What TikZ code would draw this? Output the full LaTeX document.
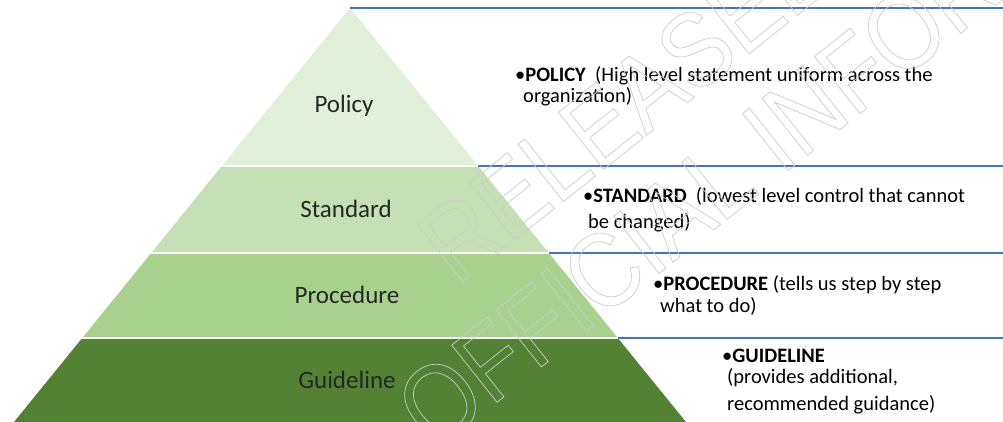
\documentclass[tikz,border=0pt]{standalone}
\usepackage{fontspec}
\setmainfont{Carlito}
\newfontfamily\stampfont[FakeStretch=0.875]{Liberation Sans}
\usetikzlibrary{positioning}

\definecolor{tierA}{HTML}{E2EFDA}
\definecolor{tierB}{HTML}{C5E0B4}
\definecolor{tierC}{HTML}{A9D18E}
\definecolor{tierD}{HTML}{548235}
\definecolor{ruleblue}{HTML}{4472C4}

% hollow letters for the stamp: stroke the glyphs (light grey) instead of filling them
\newcommand\hollow[1]{%
  \special{pdf:literal direct 1 Tr 0.7 w 0.8 0.8 0.8 RG}%
  #1%
  \special{pdf:literal direct 0 Tr}}

\begin{document}
\begin{tikzpicture}[x=1pt, y=-1pt,
  rule/.style={draw=ruleblue, line width=1.2pt},
  gap/.style={draw=white, line width=2pt},
  tierlabel/.style={font=\fontsize{25}{28}\selectfont, text=black!85, anchor=base, inner sep=0pt},
  desc/.style={font=\fontsize{20.5}{21}\selectfont, align=left, anchor=base west, inner sep=0pt},
  stamp/.style={font=\stampfont\fontsize{106}{106}\selectfont, anchor=base west, inner sep=0pt, rotate=38.5}]
\clip (0,0) rectangle (1003,422);
% tier corners along the two slanted sides
\coordinate (apex) at (350,8);
\coordinate (l1) at (221.8,166); \coordinate (r1) at (478.2,166);
\coordinate (l2) at (151.2,253); \coordinate (r2) at (548.8,253);
\coordinate (l3) at (82.2,338);  \coordinate (r3) at (617.8,338);
\coordinate (l4) at (7.5,430);   \coordinate (r4) at (692.5,430);
% right ends of the rules
\coordinate (e0) at (1003,8);
\coordinate (e1) at (1003,166);
\coordinate (e2) at (1003,253);
\coordinate (e3) at (1003,338);

\fill[tierA] (apex) -- (r1) -- (l1) -- cycle;
\fill[tierB] (l1) -- (r1) -- (r2) -- (l2) -- cycle;
\fill[tierC] (l2) -- (r2) -- (r3) -- (l3) -- cycle;
\fill[tierD] (l3) -- (r3) -- (r4) -- (l4) -- cycle;
\foreach \k in {1,2,3} \draw[gap] (l\k) -- (r\k);

\draw[rule] (apex) -- (e0);
\foreach \k in {1,2,3} \draw[rule] (r\k) -- (e\k);

\node[tierlabel] (policy) at (344,113) {Policy};
\node[tierlabel] (standard) at (346,217) {Standard};
\node[tierlabel] (procedure) at (347,303) {Procedure};
\node[tierlabel] (guideline) at (347,388) {Guideline};

% descriptions sit on the baseline of their last line
\node[desc] (policytext) at (515,103) {•\textbf{POLICY}\ \ (High level statement uniform across the\\\hspace*{8pt}organization)};
\node[desc] (standardtext) at (583,228) {•\textbf{STANDARD}\ \ (lowest level control that cannot\\[5pt]\hspace*{5pt}be changed)};
\node[desc] (proceduretext) at (653,312) {•\textbf{PROCEDURE} (tells us step by step\\[1pt]\hspace*{7pt}what to do)};
\node[desc] (guidelinetext) at (722,410) {•\textbf{GUIDELINE}\\\hspace*{5pt}(provides additional,\\[6pt]\hspace*{5pt}recommended guidance)};

% diagonal stamp across the page
\node[stamp] (released) at (456.5,286.5) {\hollow{RELEASED}};
\node[stamp] (official) at (434.5,452) {\hollow{OFFICIAL INFORMATION}};
\end{tikzpicture}
\end{document}
